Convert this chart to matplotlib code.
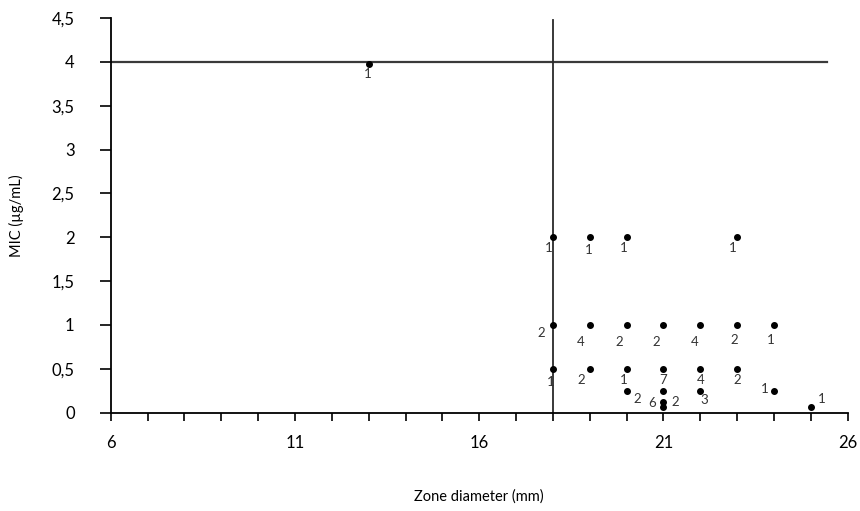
import matplotlib
matplotlib.use("Agg")
import matplotlib.pyplot as plt

# zone diameter (mm), MIC (ug/mL), number of isolates
zone = [13, 18, 19, 20, 23,
        18, 19, 20, 21, 22, 23, 24,
        18, 19, 20, 21, 22, 23,
        20, 21, 22, 24,
        21, 21, 25]
mic = [3.97, 2, 2, 2, 2,
       1, 1, 1, 1, 1, 1, 1,
       0.5, 0.5, 0.5, 0.5, 0.5, 0.5,
       0.25, 0.25, 0.25, 0.25,
       0.125, 0.0625, 0.0625]
counts = ["1", "1", "1", "1", "1",
          "2", "4", "2", "2", "4", "2", "1",
          "1", "2", "1", "7", "4", "2",
          "2", "6", "3", "1",
          "2", "", "1"]

# breakpoints
zone_bp = 18
mic_bp = 4

x_ticks = [6, 11, 16, 21, 26]
y_ticks = [0, 0.5, 1, 1.5, 2, 2.5, 3, 3.5, 4, 4.5]
y_labels = ["0", "0,5", "1", "1,5", "2", "2,5", "3", "3,5", "4", "4,5"]

# label offsets in pixels (dx right, dy down)
offsets = [(-1, 10), (-4, 11), (-1, 13), (-3, 11), (-4, 11),
           (-12, 8), (-9, 17), (-7, 17), (-7, 17), (-6, 17), (-3, 15), (-3, 15),
           (-2, 13), (-9, 11), (-3, 11), (0, 11), (0, 11), (0, 11),
           (11, 8), (-11, 12), (4, 9), (-9, -2),
           (12, 0), (0, 0), (11, -8)]

plt.rcParams["font.family"] = ["Lato", "DejaVu Sans"]

fig = plt.figure(figsize=(8.6, 5.11), dpi=100)
ax = fig.add_axes([0.1288, 0.1924, 0.8569, 0.7724])

ax.plot([6, 25.45], [mic_bp, mic_bp], color="#3a3a3a", lw=1.6, zorder=2)
ax.plot([zone_bp, zone_bp], [0, 4.48], color="#2a2a2a", lw=1.3, zorder=2, clip_on=False)

ax.scatter(zone, mic, s=16, color="black", zorder=3, clip_on=False)
for x, y, c, (dx, dy) in zip(zone, mic, counts, offsets):
    if c:
        ax.annotate(c, (x, y), xytext=(dx * 0.72, -dy * 0.72), textcoords="offset points",
                    ha="center", va="center", fontsize=9.5, color="#333333")

ax.set_xlim(6, 26)
ax.set_ylim(0, 4.5)
ax.set_xticks(x_ticks)
ax.set_xticks(range(6, 27), minor=True)
ax.set_yticks(y_ticks)
ax.set_yticklabels(y_labels)

for s in ["top", "right"]:
    ax.spines[s].set_visible(False)
for s in ["left", "bottom"]:
    ax.spines[s].set_linewidth(1.3)
    ax.spines[s].set_color("black")

ax.tick_params(axis="y", direction="out", length=8, width=1.2, pad=18, labelsize=12)
ax.tick_params(axis="x", which="both", direction="out", length=6, width=1.2, pad=10, labelsize=12)

ax.set_xlabel("Zone diameter (mm)", fontsize=10.5, labelpad=28)
ax.set_ylabel("MIC (\u00b5g/mL)", fontsize=10.5, labelpad=20)

fig.savefig("out.png", dpi=100)
